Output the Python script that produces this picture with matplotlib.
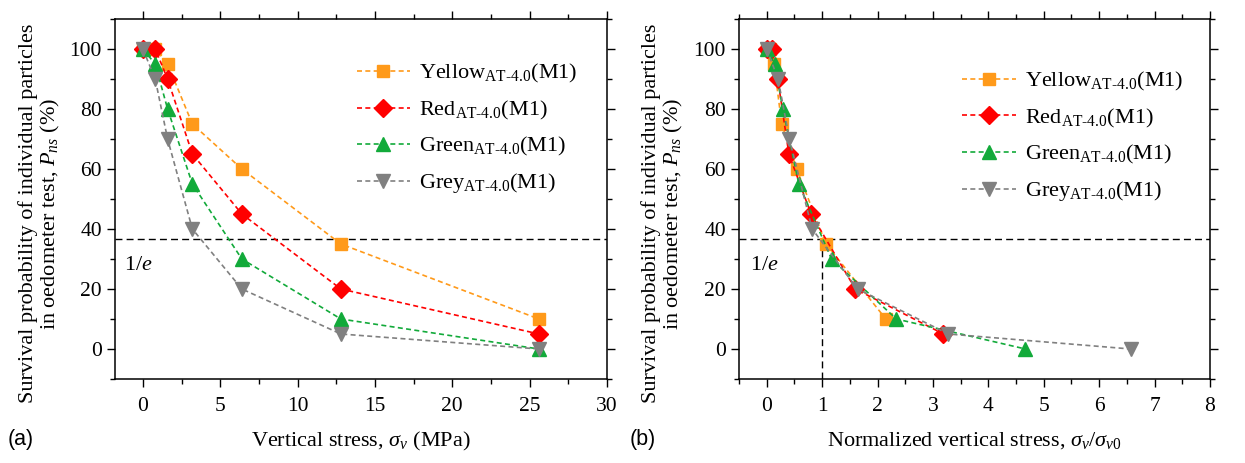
import numpy as np
import matplotlib
matplotlib.use('Agg')
import matplotlib.pyplot as plt
from matplotlib.ticker import MultipleLocator

plt.rcParams['font.family'] = ['Liberation Serif', 'DejaVu Serif']
plt.rcParams['mathtext.fontset'] = 'custom'
plt.rcParams['mathtext.rm'] = 'Liberation Serif'
plt.rcParams['mathtext.it'] = 'Liberation Serif:italic'
plt.rcParams['mathtext.bf'] = 'Liberation Serif:bold'

# Vertical stress steps (MPa) and survival probabilities (%)
stress = [0, 0.8, 1.6, 3.2, 6.4, 12.8, 25.6]
p_yellow = [100, 100, 95, 75, 60, 35, 10]
p_red = [100, 100, 90, 65, 45, 20, 5]
p_green = [100, 95, 80, 55, 30, 10, 0]
p_grey = [100, 90, 70, 40, 20, 5, 0]

# Stress normalised by the characteristic stress of each colour
norm_yellow = [0, 0.067, 0.134, 0.27, 0.54, 1.07, 2.15]
norm_red = [0, 0.1, 0.2, 0.4, 0.8, 1.6, 3.19]
norm_green = [0, 0.146, 0.29, 0.58, 1.17, 2.34, 4.67]
norm_grey = [0, 0.205, 0.41, 0.82, 1.64, 3.28, 6.57]

names = ['Yellow', 'Red', 'Green', 'Grey']
colors = ['#FF9A1A', '#FF0000', '#12AA3A', '#808080']
markers = ['s', 'D', '^', 'v']
msizes = [8.5, 9, 10, 10]

inv_e = 100 / np.e
FS = 16

fig = plt.figure(figsize=(12.45, 4.63), dpi=100)
ax1 = fig.add_axes([115 / 1245, 1 - 379 / 463, 492 / 1245, 360 / 463])
ax2 = fig.add_axes([739 / 1245, 1 - 379 / 463, 471 / 1245, 360 / 463])

series_a = [p_yellow, p_red, p_green, p_grey]
series_b = [norm_yellow, norm_red, norm_green, norm_grey]

for i in range(4):
    lab = names[i] + r'$_{\mathrm{AT\text{-}4.0}}$(M1)'
    ax1.plot(stress, series_a[i], ls=(0, (3, 2)), lw=1.2, color=colors[i],
             marker=markers[i], ms=msizes[i], label=lab)
    ax2.plot(series_b[i], series_a[i], ls=(0, (3, 2)), lw=1.2, color=colors[i],
             marker=markers[i], ms=msizes[i], label=lab)

for ax in (ax1, ax2):
    ax.axhline(inv_e, color='black', ls=(0, (5, 3)), lw=1.0, zorder=1)
    ax.set_ylim(-10, 110)
    ax.yaxis.set_major_locator(MultipleLocator(20))
    ax.yaxis.set_minor_locator(MultipleLocator(10))
    ax.tick_params(which='both', top=True, right=True, labelsize=15.5,
                   direction='out')
    ax.tick_params(which='major', length=6, width=1)
    ax.tick_params(which='minor', length=3.5, width=1)
    ax.tick_params(axis='x', which='major', pad=7)
    for sp in ax.spines.values():
        sp.set_linewidth(1.1)
    ax.set_ylabel('Survival probability of individual particles\n'
                  r'in oedometer test, $P_{ns}$ (%)', fontsize=FS, linespacing=1.05)
    # ticks on the top and right edges point inward
    for t in ax.xaxis.get_ticklines(minor=False)[1::2] + ax.xaxis.get_ticklines(minor=True)[1::2]:
        t.set_marker(2)
    for t in ax.yaxis.get_ticklines(minor=False)[1::2] + ax.yaxis.get_ticklines(minor=True)[1::2]:
        t.set_marker(1)

leg_kw = dict(loc='upper right', frameon=False, fontsize=FS, handlelength=2.4,
              labelspacing=0.6, handletextpad=0.4)
ax1.legend(bbox_to_anchor=(0.98, 0.935), **leg_kw)
ax2.legend(bbox_to_anchor=(0.985, 0.913), **leg_kw)

ax1.yaxis.set_label_coords(-0.108, 0.46)
ax2.yaxis.set_label_coords(-0.115, 0.46)

ax1.set_xlim(-1.8, 30)
ax1.xaxis.set_major_locator(MultipleLocator(5))
ax1.xaxis.set_minor_locator(MultipleLocator(2.5))
ax1.set_xlabel(r'Vertical stress, $\sigma_v$ (MPa)', fontsize=FS, labelpad=10)
ax1.text(-1.2, 28, r'1/$e$', fontsize=FS, va='center')

ax2.set_xlim(-0.5, 8)
ax2.xaxis.set_major_locator(MultipleLocator(1))
ax2.xaxis.set_minor_locator(MultipleLocator(0.5))
ax2.set_xlabel(r'Normalized vertical stress, $\sigma_v/\sigma_{v0}$', fontsize=FS, labelpad=10)
ax2.text(-0.3, 28, r'1/$e$', fontsize=FS, va='center')
ax2.plot([1, 1], [-10, inv_e], color='black', ls=(0, (5, 3)), lw=1.0, zorder=1)

fig.text(8 / 1245, 1 - 440 / 463, '(a)', fontsize=15.5, family='Liberation Sans', va='center')
fig.text(630 / 1245, 1 - 440 / 463, '(b)', fontsize=15.5, family='Liberation Sans', va='center')

fig.savefig('out.png', dpi=100)
